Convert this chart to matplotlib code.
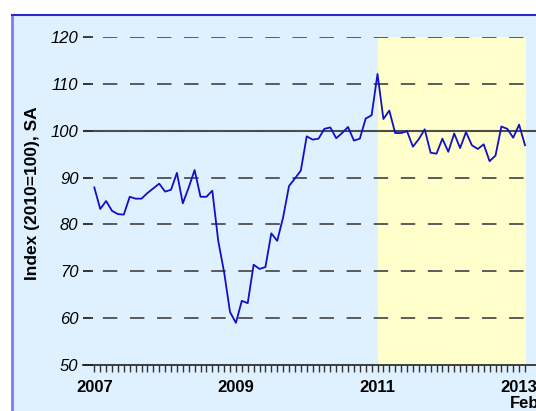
import matplotlib.pyplot as plt
import matplotlib.patches as mpatches
import matplotlib.transforms as mtransforms
from matplotlib.lines import Line2D
import numpy as np

plt.rcParams['font.family'] = ['Liberation Sans', 'DejaVu Sans']

# monthly index, Jan 2007 .. Feb 2013
values = [87.9, 83.3, 85.0, 82.9, 82.2, 82.1, 85.9, 85.5, 85.5, 86.7, 87.7, 88.7,
          87.0, 87.4, 91.0, 84.5, 87.9, 91.6, 85.9, 85.9, 87.2, 76.5, 69.8, 61.3,
          59.0, 63.7, 63.2, 71.4, 70.5, 70.9, 78.1, 76.5, 81.5, 88.2, 89.8, 91.5,
          98.8, 98.1, 98.3, 100.4, 100.7, 98.4, 99.5, 100.8, 97.9, 98.3, 102.6, 103.3,
          112.1, 102.5, 104.3, 99.5, 99.5, 99.9, 96.6, 98.2, 100.3, 95.3, 95.1, 98.3,
          95.5, 99.4, 96.3, 99.7, 96.9, 96.1, 97.1, 93.5, 94.7, 100.9, 100.4, 98.5,
          101.3, 96.9]
months = np.arange(len(values))
year_ticks = [0, 24, 48, 72]
year_labels = ['2007', '2009', '2011', '2013']
last_label = 'Feb'
y_ticks = [50, 60, 70, 80, 90, 100, 110, 120]
shade_start = 48
shade_end = 73.2

W, H = 536, 411
fig = plt.figure(figsize=(W / 100, H / 100), dpi=100)

# panel background with borders
fig.patches.append(mpatches.Rectangle((12 / W, 0), 1, 1 - 15 / H, transform=fig.transFigure,
                                      facecolor='#dff0ff', edgecolor='none', zorder=-10))
fig.lines.append(Line2D([12 / W, 12 / W], [0, 1 - 15 / H], transform=fig.transFigure,
                        color='#7b7bf5', lw=2, zorder=-5))
fig.lines.append(Line2D([12 / W, 1], [1 - 15 / H, 1 - 15 / H], transform=fig.transFigure,
                        color='#2a2acc', lw=1.5, zorder=-5))

left, bottom, top = 82.7, 365, 37
ax = fig.add_axes([left / W, 1 - bottom / H, 1 - left / W, (bottom - top) / H])
ax.set_zorder(1)
ax.set_facecolor('none')
ax.set_xlim(-1.97, (W - 94.3) / 5.9)
ax.set_ylim(50, 120)

ax.axvspan(shade_start, shade_end, color='#ffffcc', zorder=0.5, lw=0)

for y in y_ticks[1:]:
    if y == 100:
        ax.axhline(y, color='#4a4a4a', lw=1.5, zorder=1)
    ax.axhline(y, color='#4f4f4f', lw=1.3, ls=(4, (8, 7)), zorder=1)

ax.plot(months, values, color='#1010c8', lw=1.3, zorder=3)

for s in ['left', 'right', 'top']:
    ax.spines[s].set_visible(False)
ax.spines['bottom'].set_color('#222222')
ax.spines['bottom'].set_linewidth(1.2)

ax.set_yticks(y_ticks)
ax.set_yticklabels([str(v) for v in y_ticks], fontsize=12, fontstyle='italic')
ax.tick_params(axis='y', direction='in', length=7, width=1.3, color='#333333', pad=3)

ax.set_xticks(year_ticks)
ax.set_xticklabels(year_labels, fontsize=12, fontweight='bold')
ax.set_xticks(months, minor=True)
ax.tick_params(axis='x', which='both', direction='out', length=5, width=1, color='#333333', pad=6)

trans = mtransforms.blended_transform_factory(ax.transData, fig.transFigure)
ax.text(months[-1], 1 - 403 / H, last_label, transform=trans, ha='center', va='center',
        fontsize=12, fontweight='bold', clip_on=False)

fig.text(33 / W, 1 - 193 / H, 'Index (2010=100), SA', rotation=90, ha='center', va='center',
         fontsize=12.5, fontweight='bold')

fig.savefig('out.png', dpi=100)
